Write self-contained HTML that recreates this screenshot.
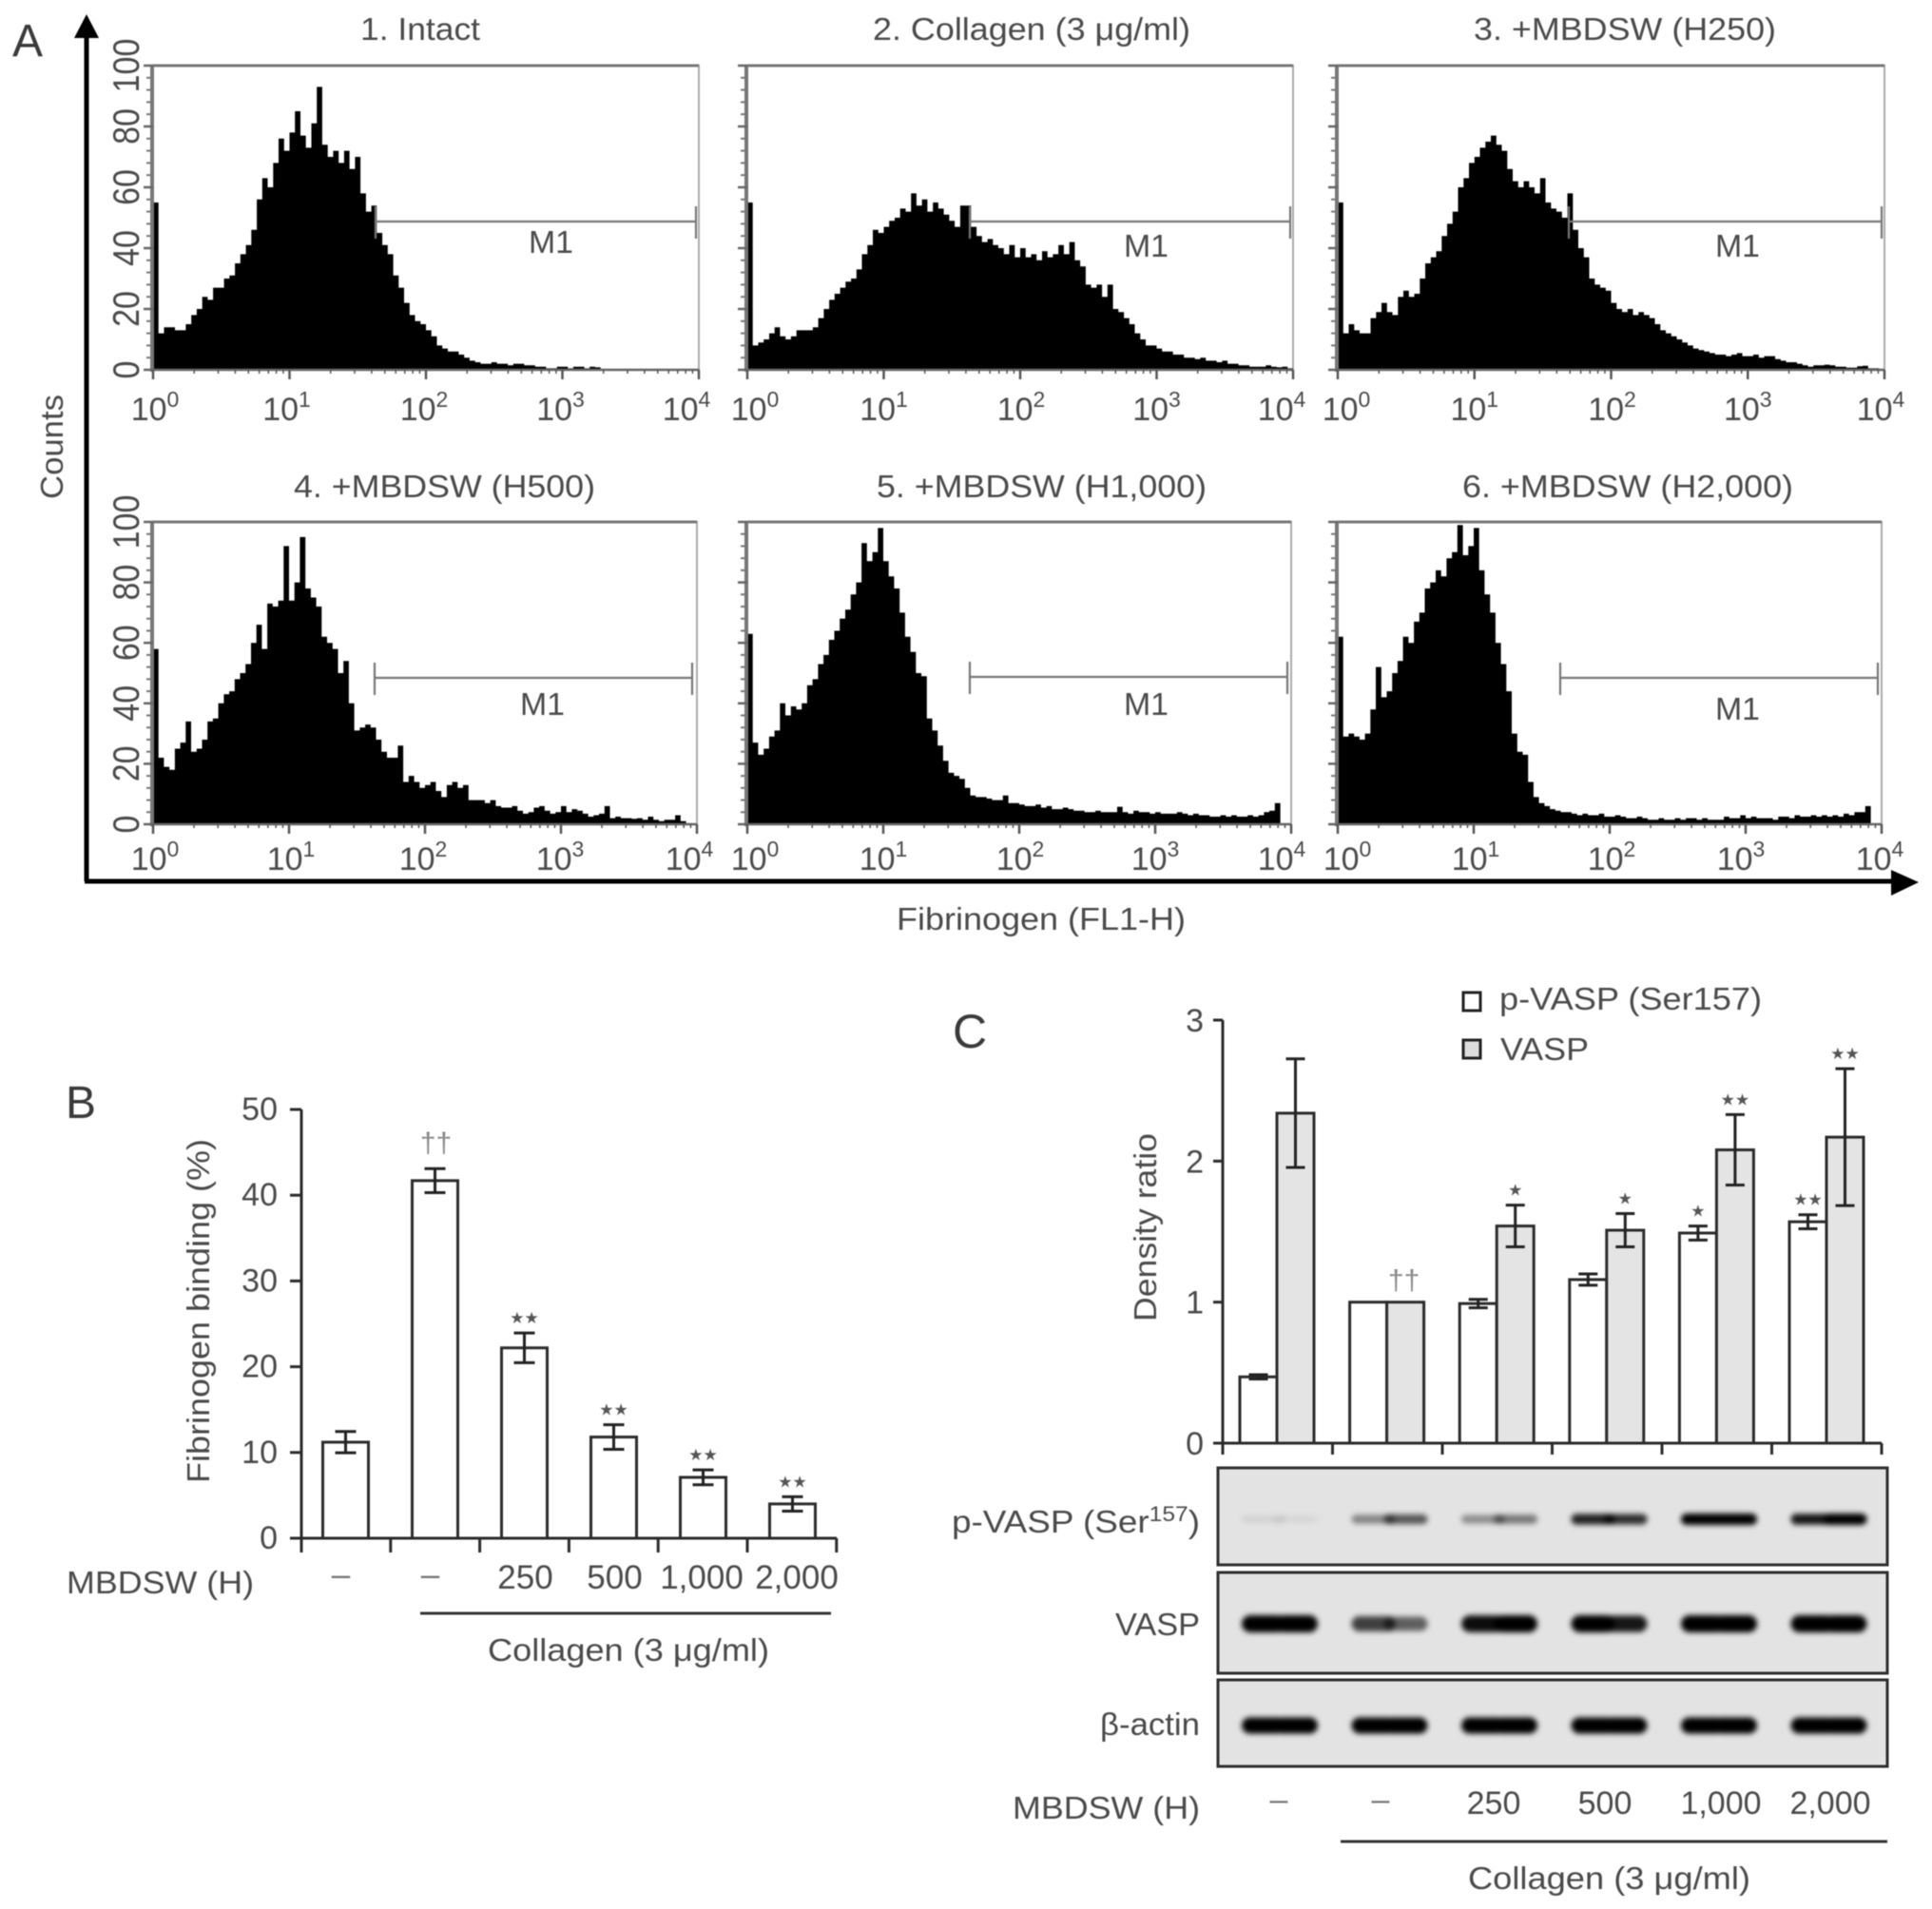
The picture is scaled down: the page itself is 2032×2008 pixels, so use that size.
<!DOCTYPE html>
<html lang="en">
<head>
<meta charset="utf-8">
<title>Fibrinogen binding and VASP phosphorylation figure</title>
<style>
html,body{margin:0;padding:0;background:#fff;}
#figure{display:block;width:2032px;height:2008px;filter:blur(0.6px);}
text{font-family:"Liberation Sans","DejaVu Sans",sans-serif;fill:#4a4a4a;font-size:33px;}
.letter{font-size:48px;fill:#3a3a3a;}
</style>
</head>
<body>
<svg id="figure" xmlns="http://www.w3.org/2000/svg" width="2032" height="2008" viewBox="0 0 2032 2008">
<defs>
<filter id="band-blur" x="-30%" y="-80%" width="160%" height="260%"><feGaussianBlur stdDeviation="2.8"/></filter>
</defs>
<rect x="0" y="0" width="2032" height="2008" fill="#fff"/>

<g id="panel-a">
<text class="letter" x="13" y="59">A</text>
<path d="M91 927V36" stroke="#000" stroke-width="5" fill="none"/>
<path d="M78 40L91 15L104 40Z" fill="#000"/>
<path d="M89 927H1995" stroke="#000" stroke-width="5" fill="none"/>
<path d="M1989 915L2018 928L1989 942Z" fill="#000"/>
<text transform="translate(66,525) rotate(-90)" textLength="110" lengthAdjust="spacingAndGlyphs">Counts</text>
<text x="943" y="978" textLength="304" lengthAdjust="spacingAndGlyphs">Fibrinogen (FL1-H)</text>
<text x="379" y="42" textLength="126" lengthAdjust="spacingAndGlyphs">1. Intact</text>
<text x="918" y="42" textLength="334" lengthAdjust="spacingAndGlyphs">2. Collagen (3 μg/ml)</text>
<text x="1550" y="42" textLength="318" lengthAdjust="spacingAndGlyphs">3. +MBDSW (H250)</text>
<text x="309" y="523" textLength="317" lengthAdjust="spacingAndGlyphs">4. +MBDSW (H500)</text>
<text x="922" y="523" textLength="347" lengthAdjust="spacingAndGlyphs">5. +MBDSW (H1,000)</text>
<text x="1538" y="523" textLength="348" lengthAdjust="spacingAndGlyphs">6. +MBDSW (H2,000)</text>
</g>

<g id="panel-b">
<text class="letter" x="69" y="1176">B</text>
<text transform="translate(220,1560) rotate(-90)" textLength="362" lengthAdjust="spacingAndGlyphs">Fibrinogen binding (%)</text>
<text x="70" y="1676" textLength="197" lengthAdjust="spacingAndGlyphs">MBDSW (H)</text>
<path d="M442 1697H874" stroke="#333" stroke-width="3"/>
<text x="513" y="1747" textLength="296" lengthAdjust="spacingAndGlyphs">Collagen (3 μg/ml)</text>
</g>

<g id="panel-c">
<text class="letter" x="1002" y="1102" style="font-size:50px">C</text>
<text transform="translate(1216,1390) rotate(-90)" textLength="198" lengthAdjust="spacingAndGlyphs">Density ratio</text>
<rect x="1539" y="1044" width="18" height="19" fill="#fff" stroke="#222" stroke-width="3"/>
<text x="1577" y="1062" textLength="276" lengthAdjust="spacingAndGlyphs">p-VASP (Ser157)</text>
<rect x="1539" y="1094" width="18" height="19" fill="#dedede" stroke="#222" stroke-width="3"/>
<text x="1578" y="1115" textLength="93" lengthAdjust="spacingAndGlyphs">VASP</text>
<text x="1001" y="1612" textLength="261" lengthAdjust="spacingAndGlyphs">p-VASP (Ser<tspan dy="-12" font-size="22">157</tspan><tspan dy="12">)</tspan></text>
<text x="1173" y="1720" textLength="89" lengthAdjust="spacingAndGlyphs">VASP</text>
<text x="1157" y="1825" textLength="105" lengthAdjust="spacingAndGlyphs">β-actin</text>
<text x="1065" y="1913" textLength="197" lengthAdjust="spacingAndGlyphs">MBDSW (H)</text>
<path d="M1410 1937H1985" stroke="#333" stroke-width="3"/>
<text x="1544" y="1987" textLength="297" lengthAdjust="spacingAndGlyphs">Collagen (3 μg/ml)</text>
</g>
</svg>

<script>
/* ---------- Histogram data (counts per channel bin) ---------- */
const seriesIntact = [55,12,14,14,13,13,15,18,20,24,23,27,27,30,31,35,38,41,46,56,63,60,68,76,72,78,85,77,73,81,93,74,70,72,68,72,66,70,58,52,54,45,41,38,31,27,22,18,16,15,13,11,8,7,6,6,5,4,3,2.5,2,2,2.5,2,2,1.5,2,2,1.5,1.5,1,1,.5,.5,1,1,.5,1,1,.5,1,.8,.3,.3,.2,.2,.2,.2,.2,.2,.2,.2,.2,.2,.2,.2,.2,.2,.2,.2];
const seriesCollagen = [55,8,9,10,12,14,11,10,11,13,13,13,14,17,20,23,25,27,29,30,33,38,41,46,45,47,49,50,53,52,58,54,56,52,55,53,51,49,47,54,54,47,44,42,43,41,40,38,41,37,40,37,38,36,39,37,38,41,38,42,36,34,28,27,28,24,28,20,19,17,15,12,10,8,8,7,6,6,5,5,4,4,3.5,4,3,3,2.5,3,2,2,1.5,1.5,1,1,1,1.5,1,.8,1,.5];
const seriesH250 = [55,12,15,13,12,12,17,19,22,19,18,24,26,24,25,30,35,37,39,44,48,52,60,63,68,70,73,75,77,74,72,66,62,60,62,60,58,63,55,53,52,50,58,46,40,37,30,28,27,26,22,20,19,20,18,19,18,17,15,13,12,11,10,9,8,7,6.5,6,5.5,5,5,4.5,5,5.5,4.5,4.5,5,4,4.5,4.5,3.5,3,2.5,2.5,2,1.5,1,1.5,1.5,1.7,1.5,1,1,.7,.7,1.2,1.3,.5,.5,.3];
const seriesH500 = [58,22,19,18,25,27,34,24,25,28,34,35,40,43,44,48,50,53,60,66,58,73,72,74,92,74,80,95,78,75,72,62,60,58,50,54,40,31,32,33,32,28,24,22,22,26,14,16,14,12,13,14,11,9,13,14,12,13,8,8,8,7,8,6,5.5,5.5,6,4.5,3.5,4,5.5,6,4.5,3.5,4,6,4,5,4.5,3.5,2.5,3,3.5,6,2,2.5,2,2,1.8,2,1.5,2.5,1.5,1,1.5,1.5,3,1,.3,.2];
const seriesH1000 = [63,27,23,25,29,31,40,36,39,38,40,46,48,53,56,61,64,68,71,76,80,93,87,90,98,87,82,78,70,62,57,50,49,35,31,26,21,17,16,15,12,9.5,9,9,8.5,8,8,9.5,7,7,6.5,6,6,6.5,5.5,6,5,5,5.5,5,4.5,4.5,4,4,4.5,4,4,4,5.8,4,3.5,4.5,4,4,3.5,4,3.5,3.5,3.5,4,3.5,3,3.5,3,3,2.5,2.5,3,2.5,3,2.5,2.5,3,2.5,3,4,4.5,7,.2,.2];
const seriesH2000 = [62,29,30,29,28,30,38,52,42,44,50,54,62,60,67,70,78,80,84,82,88,90,99,89,92,98,84,76,70,60,53,44,30,24,23,14,9,7,6,5,4.5,4,4,3.5,3,3.5,3,3,3.5,2.5,2.5,3,2.5,2,2,2.5,2,1.5,1.5,2,1.5,1.5,2,1.5,2,2,1.5,2,1.5,1.5,1.5,2.5,2,2,3,2,2.5,2,2,2,1.5,2.5,2.5,2,3,2.5,2.5,3,2.5,3,2.5,3,2.5,3.5,3,4,4,6,.2,.2];
const countTicks = [0,20,40,60,80,100];
const decadeExponents = [0,1,2,3,4];
const gateMarkerLabel = 'M1';

/* ---------- Panel B data ---------- */
const bindingCategories = ['–','–','250','500','1,000','2,000'];
const bindingMeans = [11.2,41.7,22.2,11.8,7.1,4.0];
const bindingErrors = [1.24,1.4,1.73,1.43,.87,.84];
const bindingMarks = ['','††','★★','★★','★★','★★'];
const bindingTicks = [0,10,20,30,40,50];

/* ---------- Panel C data ---------- */
const densityCategories = ['–','–','250','500','1,000','2,000'];
const pVaspMeans = [.47,1,.99,1.16,1.49,1.57];
const pVaspErrors = [.015,0,.03,.04,.05,.05];
const vaspMeans = [2.34,1,1.54,1.51,2.08,2.17];
const vaspErrors = [.385,0,.148,.118,.25,.485];
const pVaspMarks = ['','','','','★','★★'];
const vaspMarks = ['','','★','★','★★','★★'];
const densityTicks = [0,1,2,3];

/* ---------- Blot band strengths (0..1): left and right lobes per lane ---------- */
const pVaspBandLeft = [.08,.42,.38,.85,1,.9];
const pVaspBandRight = [.06,.62,.48,.8,1,1];
const vaspBandLeft = [1,.72,.95,1,1,1];
const vaspBandRight = [1,.58,1,.9,1,1];
const actinBandLeft = [1,1,1,1,1,1];
const actinBandRight = [1,1,1,1,1,1];

const SVGNS = 'http://www.w3.org/2000/svg';
function mk(parent, tag, attrs, txt) {
  const n = document.createElementNS(SVGNS, tag);
  for (const k in attrs) n.setAttribute(k, attrs[k]);
  if (txt !== undefined) n.textContent = txt;
  parent.appendChild(n);
  return n;
}
const panelA = document.getElementById('panel-a');
const panelB = document.getElementById('panel-b');
const panelC = document.getElementById('panel-c');

/* ---------- Panel A ---------- */
const histograms = [
  {key:'intact', values:seriesIntact, left:161, right:735, base:389, top:69, yLabels:true, dx:[2,-3,-2,-2,-13], gate:[395,732,233], m1:[556,266], tickBase:442},
  {key:'collagen', values:seriesCollagen, left:786, right:1360, base:389, top:69, yLabels:false, dx:[8,0,1,0,-12], gate:[1020,1357,233], m1:[1182,270], tickBase:442},
  {key:'h250', values:seriesH250, left:1407, right:1982, base:389, top:69, yLabels:false, dx:[9,0,1,0,-4], gate:[1650,1979,233], m1:[1804,270], tickBase:442},
  {key:'h500', values:seriesH500, left:161, right:733, base:867, top:549, yLabels:true, dx:[2,2,-2,-1,-8], gate:[394,728,713], m1:[547,752], tickBase:915},
  {key:'h1000', values:seriesH1000, left:786, right:1358, base:867, top:549, yLabels:false, dx:[8,0,1,0,-10], gate:[1020,1354,712], m1:[1182,752], tickBase:915},
  {key:'h2000', values:seriesH2000, left:1407, right:1979, base:867, top:549, yLabels:false, dx:[10,2,2,-5,-2], gate:[1641,1975,713], m1:[1804,757], tickBase:915}
];

histograms.forEach(function (p) {
  const W = p.right - p.left;
  const xLog = function (v) { return p.left + Math.log10(v) / 4 * W; };
  const xBin = function (i) { return p.left + i / p.values.length * W; };
  const yCount = function (c) { return p.base - c / 100 * (p.base - p.top); };
  const g = mk(panelA, 'g', {});
  
  

  const frame = mk(g, 'path', {d:'M' + p.left + ' ' + p.top + 'H' + p.right + 'V' + p.base, fill:'none', stroke:'#aaa', 'stroke-width':2});
  
  
  const topEdge = mk(g, 'path', {d:'M' + p.left + ' ' + p.top + 'H' + p.right, fill:'none', stroke:'#777', 'stroke-width':3});
  
  

  let d = 'M' + p.left + ' ' + p.base;
  p.values.forEach(function (v, i) {
    d += 'V' + yCount(v).toFixed(1) + 'H' + xBin(i + 1).toFixed(1);
  });
  d += 'V' + p.base + 'Z';
  const hist = mk(g, 'path', {d:d, fill:'#000'});
  
  

  const yAxis = mk(g, 'path', {d:'M' + (p.left - 1) + ' ' + p.top + 'V' + (p.base + 2), stroke:'#777', 'stroke-width':4, fill:'none'});
  
  
  const xAxis = mk(g, 'path', {d:'M' + p.left + ' ' + p.base + 'H' + p.right, stroke:'#666', 'stroke-width':2.5, fill:'none'});
  
  

  for (let c = 0; c <= 100; c += 4) {
    const minor = mk(g, 'line', {x1:p.left - 7, x2:p.left, y1:yCount(c), y2:yCount(c), stroke:'#777', 'stroke-width':2});
    
    
  }
  countTicks.forEach(function (c) {
    const y = yCount(c);
    const tk = mk(g, 'line', {x1:p.left - 10, x2:p.left, y1:y, y2:y, stroke:'#666', 'stroke-width':2.5});
    
    
    if (p.yLabels) {
      const lb = mk(g, 'text', {transform:'translate(146,' + y + ') rotate(-90) scale(1,1.15)', 'text-anchor':'middle', style:'font-size:34px'}, String(c));
      
      
    }
  });
  decadeExponents.forEach(function (e, idx) {
    const dec = Math.pow(10, e);
    const x = xLog(dec);
    const tk = mk(g, 'line', {x1:x, x2:x, y1:p.base, y2:p.base + 10, stroke:'#555', 'stroke-width':2.5});
    
    
    if (e < 4) {
      for (let m = 2; m < 10; m++) {
        const mx = xLog(m * dec);
        const mt = mk(g, 'line', {x1:mx, x2:mx, y1:p.base, y2:p.base + 4, stroke:'#555', 'stroke-width':1.5});
        
        
      }
    }
    const lb = mk(g, 'text', {x:x + p.dx[idx], y:p.tickBase, 'text-anchor':'middle', style:'font-size:34px'}, '10');
    const sup = mk(lb, 'tspan', {dy:-14, style:'font-size:23px'}, String(e));
    
    
    
    
  });

  const gx0 = p.gate[0], gx1 = p.gate[1], gy = p.gate[2];
  const gate = mk(g, 'path', {d:'M' + gx0 + ' ' + gy + 'H' + gx1 + 'M' + gx0 + ' ' + (gy - 16) + 'V' + (gy + 18) + 'M' + gx1 + ' ' + (gy - 16) + 'V' + (gy + 18), fill:'none', stroke:'#777', 'stroke-width':2.2});
  
  
  const gl = mk(g, 'text', {x:p.m1[0], y:p.m1[1], textLength:47, lengthAdjust:'spacingAndGlyphs'}, gateMarkerLabel);
  
  
});

/* ---------- Panel B chart ---------- */
const bx = function (i) { return 363.5 + 94 * i; };
const by = function (v) { return 1618 - v * 9.02; };
bindingMeans.forEach(function (v, i) {
  const c = bx(i);
  const bar = mk(panelB, 'rect', {x:c - 24, y:by(v), width:48, height:by(0) - by(v), fill:'#fff', stroke:'#2b2b2b', 'stroke-width':3});
  
  
  const hi = by(v + bindingErrors[i]);
  const lo = by(v - bindingErrors[i]);
  const eb = mk(panelB, 'path', {d:'M' + c + ' ' + hi + 'V' + lo + 'M' + (c - 11) + ' ' + hi + 'H' + (c + 11) + 'M' + (c - 11) + ' ' + lo + 'H' + (c + 11), fill:'none', stroke:'#222', 'stroke-width':3});
  
  
  if (bindingMarks[i]) {
    const isDagger = bindingMarks[i] === '††';
    const mark = mk(panelB, 'text', {x:c + (isDagger ? 1 : 0), y:hi + (isDagger ? -17 : -10), 'text-anchor':'middle', style: isDagger ? 'font-size:30px;fill:#888' : 'font-size:17px;fill:#555;font-family:\'DejaVu Sans\',sans-serif'}, bindingMarks[i]);
    
    
  }
  const cl = bindingCategories[i];
  const clb = mk(panelB, 'text', {x:i === 4 ? 738 : i === 5 ? 838 : c - (i < 2 ? 5 : -1), y:i < 2 ? 1668 : 1671, 'text-anchor':'middle', style:'font-size:35px' + (i < 2 ? ';fill:#777' : '')}, cl);
  
  
});
const bAxes = mk(panelB, 'path', {d:'M317 1167V1633M317 1618H880', fill:'none', stroke:'#2b2b2b', 'stroke-width':3});


bindingTicks.forEach(function (t) {
  const tk = mk(panelB, 'line', {x1:305, x2:317, y1:by(t), y2:by(t), stroke:'#2b2b2b', 'stroke-width':3});
  
  
  const lb = mk(panelB, 'text', {x:292, y:by(t) + 11, 'text-anchor':'end', style:'font-size:34px'}, String(t));
  
  
});
bindingCategories.concat(['']).forEach(function (_, i) {
  const x = 317 + 93.8 * i;
  const tk = mk(panelB, 'line', {x1:x, x2:x, y1:1618, y2:1633, stroke:'#2b2b2b', 'stroke-width':3});
  
  
});

/* ---------- Panel C chart ---------- */
const cx = function (i) { return 1343 + 115.6 * i; };
const cy = function (v) { return 1518 - v * 148.33; };
const cBarW = 39;
function drawDensitySeries(means, errors, marks, side, fill, name) {
  means.forEach(function (v, i) {
    const c = cx(i) + side * cBarW / 2;
    const bar = mk(panelC, 'rect', {x:c - cBarW / 2, y:cy(v), width:cBarW, height:cy(0) - cy(v), fill:fill, stroke:'#2b2b2b', 'stroke-width':3});
    
    
    const hi = cy(v + errors[i]);
    const lo = cy(v - errors[i]);
    if (errors[i] > 0) {
      const eb = mk(panelC, 'path', {d:'M' + c + ' ' + hi + 'V' + lo + 'M' + (c - 10) + ' ' + hi + 'H' + (c + 10) + 'M' + (c - 10) + ' ' + lo + 'H' + (c + 10), fill:'none', stroke:'#222', 'stroke-width':3});
      
      
    }
    if (marks[i]) {
      const mark = mk(panelC, 'text', {x:c, y:hi - 10, 'text-anchor':'middle', style:'font-size:17px;fill:#555;font-family:\'DejaVu Sans\',sans-serif'}, marks[i]);
      
      
    }
  });
}
drawDensitySeries(pVaspMeans, pVaspErrors, pVaspMarks, -1, '#fff', 'p-vasp');
drawDensitySeries(vaspMeans, vaspErrors, vaspMarks, 1, '#e4e4e4', 'vasp');
const dagger = mk(panelC, 'text', {x:cx(1) + 18, y:cy(1) - 13, 'text-anchor':'middle', style:'font-size:30px;fill:#888'}, '††');


const cAxes = mk(panelC, 'path', {d:'M1286 1073V1530M1286 1518H1979', fill:'none', stroke:'#2b2b2b', 'stroke-width':3});


densityTicks.forEach(function (t) {
  const tk = mk(panelC, 'line', {x1:1276, x2:1286, y1:cy(t), y2:cy(t), stroke:'#2b2b2b', 'stroke-width':3});
  
  
  const lb = mk(panelC, 'text', {x:1266, y:cy(t) + 12, 'text-anchor':'end', style:'font-size:34px'}, String(t));
  
  
});
densityCategories.concat(['']).forEach(function (_, i) {
  const x = 1286 + 115.5 * i;
  const tk = mk(panelC, 'line', {x1:x, x2:x, y1:1518, y2:1530, stroke:'#2b2b2b', 'stroke-width':3});
  
  
});
densityCategories.forEach(function (c, i) {
  const x = i === 0 ? 1345 : i === 1 ? 1452 : i === 2 ? 1571 : i === 3 ? 1688 : i === 4 ? 1810 : 1925;
  const lb = mk(panelC, 'text', {x:x, y:i < 2 ? 1904 : 1908, 'text-anchor':'middle', style:'font-size:34px' + (i < 2 ? ';fill:#777' : '')}, c);
  
  
});

/* ---------- Western blots ---------- */
const blots = [
  {key:'p-vasp', top:1544, bottom:1646, mid:1598, thick:12, left:pVaspBandLeft, right:pVaspBandRight},
  {key:'vasp', top:1654, bottom:1760, mid:1708, thick:18, left:vaspBandLeft, right:vaspBandRight},
  {key:'beta-actin', top:1767, bottom:1858, mid:1815, thick:17, left:actinBandLeft, right:actinBandRight}
];
const laneX = function (i) { return 1346 + 115.5 * i; };
blots.forEach(function (b) {
  const g = mk(panelC, 'g', {});
  
  
  const bg = mk(g, 'rect', {x:1281, y:b.top, width:704, height:b.bottom - b.top, fill:'#e3e3e3'});
  
  
  const bands = mk(g, 'g', {filter:'url(#band-blur)'});
  
  
  b.left.forEach(function (s, i) {
    [[-17, s], [17, b.right[i]]].forEach(function (lobe) {
      const h = b.thick * (0.6 + 0.4 * lobe[1]);
      const e = mk(bands, 'rect', {x:laneX(i) + lobe[0] - 23, y:b.mid - h / 2, width:46, height:h, rx:h / 2, ry:h / 2, fill:'#000', opacity:lobe[1]});
      
      
    });
  });
  const border = mk(g, 'rect', {x:1281, y:b.top, width:704, height:b.bottom - b.top, fill:'none', stroke:'#2e2e2e', 'stroke-width':3});
  
  
});
</script>
</body>
</html>
